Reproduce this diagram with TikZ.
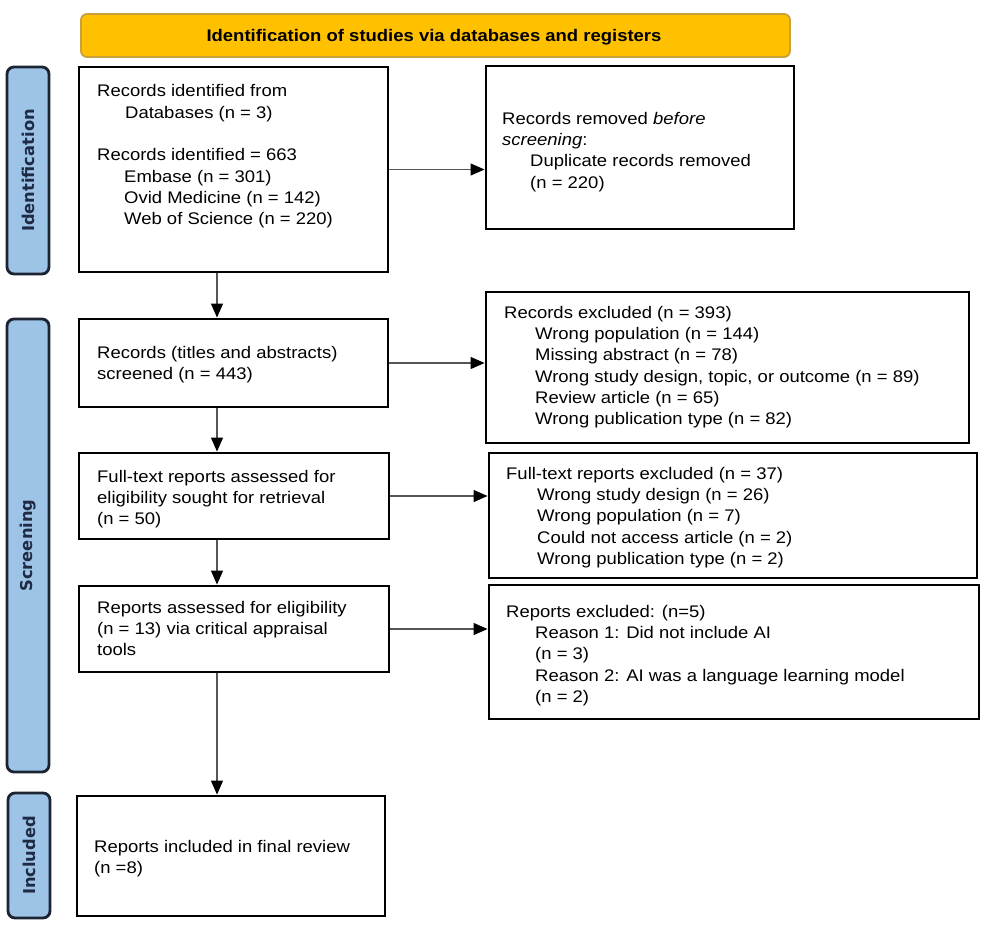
\documentclass[tikz,border=0pt]{standalone}
\usepackage{fontspec}
\setmainfont[FakeStretch=1.1]{Liberation Sans}
\newfontfamily\sidefont{DejaVu Sans}
\usetikzlibrary{arrows.meta}
\definecolor{gold}{HTML}{FFC000}
\definecolor{goldedge}{HTML}{C9A13A}
\definecolor{sideblue}{HTML}{9DC3E6}
\definecolor{sideedge}{HTML}{1C2333}
\definecolor{sidetext}{HTML}{1F2A44}
\definecolor{arrowgray}{HTML}{555555}
\tikzset{
  box/.style={draw=black, line width=2.9pt, fill=white, inner sep=0pt},
  txt/.style={anchor=north west, inner sep=0pt, align=left, font=\fontsize{16.8}{21.3}\selectfont},
  side/.style={draw=sideedge, line width=2.8pt, fill=sideblue, rounded corners=7pt, inner sep=0pt},
  sidelabel/.style={rotate=90, text=sidetext, font=\sidefont\bfseries\fontsize{16.3}{19}\selectfont},
  banner/.style={draw=goldedge, line width=1.8pt, fill=gold, rounded corners=6pt, inner sep=0pt},
  flow/.style={draw=arrowgray, line width=1.2pt, -{Triangle[length=14pt,width=12pt,fill=black,color=black]}}
}
\begin{document}
\begin{tikzpicture}[x=1pt,y=-1pt]
\useasboundingbox (0,0) rectangle (986,927);
\fill[white] (0,0) rectangle (986,927);

% banner
\node[banner, minimum width=709pt, minimum height=43pt] (ban) at (435.5,35.5) {};
\node[font=\bfseries\fontsize{16.8}{20}\selectfont, inner sep=0pt] (bantxt) at (434,37) {Identification of studies via databases and registers};

% side bars
\node[side, minimum width=42pt, minimum height=207pt] (sid1) at (28,170.5) {};
\node[sidelabel] (sidl1) at (sid1.center) {Identification};
\node[side, minimum width=42pt, minimum height=453pt] (sid2) at (28,545.5) {};
\node[sidelabel] (sidl2) at (sid2.center) {Screening};
\node[side, minimum width=42pt, minimum height=125pt] (sid3) at (29,855.5) {};
\node[sidelabel] (sidl3) at (sid3.center) {Included};

% boxes
\node[box, minimum width=309pt, minimum height=205pt] (b1) at (233.5,169.5) {};
\node[box, minimum width=308pt, minimum height=163pt] (b2) at (640,147.5) {};
\node[box, minimum width=309pt, minimum height=88pt] (b3) at (233.5,363) {};
\node[box, minimum width=483pt, minimum height=151pt] (b4) at (727.5,367.5) {};
\node[box, minimum width=310pt, minimum height=86pt] (b5) at (234,496) {};
\node[box, minimum width=488pt, minimum height=125pt] (b6) at (733,515.5) {};
\node[box, minimum width=310pt, minimum height=86pt] (b7) at (234,629) {};
\node[box, minimum width=490pt, minimum height=134pt] (b8) at (734,652) {};
\node[box, minimum width=308pt, minimum height=120pt] (b9) at (231,856) {};

% texts
\node[txt] (t1) at (97,80.7) {\rule{0pt}{16pt}Records identified from\\
\hspace*{28pt}Databases (n = 3)\\
\mbox{}\\
Records identified = 663\\
\hspace*{27pt}Embase (n = 301)\\
\hspace*{27pt}Ovid Medicine (n = 142)\\
\hspace*{27pt}Web of Science (n = 220)};

\node[txt] (t2) at (502,108) {\rule{0pt}{16pt}Records removed \textit{before}\\
\textit{screening}:\\
\hspace*{28pt}Duplicate records removed\\
\hspace*{28pt}(n = 220)};

\node[txt] (t3) at (97,342) {\rule{0pt}{16pt}Records (titles and abstracts)\\
screened (n = 443)};

\node[txt] (t4) at (504,302) {\rule{0pt}{16pt}Records excluded (n = 393)\\
\hspace*{31pt}Wrong population (n = 144)\\
\hspace*{31pt}Missing abstract (n = 78)\\
\hspace*{31pt}Wrong study design, topic, or outcome (n = 89)\\
\hspace*{31pt}Review article (n = 65)\\
\hspace*{31pt}Wrong publication type (n = 82)};

\node[txt] (t5) at (97,466) {\rule{0pt}{16pt}Full-text reports assessed for\\
eligibility sought for retrieval\\
(n = 50)};

\node[txt] (t6) at (506,463) {\rule{0pt}{16pt}Full-text reports excluded (n = 37)\\
\hspace*{31pt}Wrong study design (n = 26)\\
\hspace*{31pt}Wrong population (n = 7)\\
\hspace*{31pt}Could not access article (n = 2)\\
\hspace*{31pt}Wrong publication type (n = 2)};

\node[txt] (t7) at (97,597) {\rule{0pt}{16pt}Reports assessed for eligibility\\
(n = 13) via critical appraisal\\
tools};

\node[txt] (t8) at (506,601) {\rule{0pt}{16pt}Reports excluded: (n=5)\\
\hspace*{29pt}Reason 1: Did not include AI\\
\hspace*{29pt}(n = 3)\\
\hspace*{29pt}Reason 2: AI was a language learning model\\
\hspace*{29pt}(n = 2)};

\node[txt] (t9) at (94,836) {\rule{0pt}{16pt}Reports included in final review\\
(n =8)};

% connectors
\coordinate (vx) at (217,0);
\draw[flow] (b1.south -| vx) -- (b3.north -| vx);
\draw[flow] (b3.south -| vx) -- (b5.north -| vx);
\draw[flow] (b5.south -| vx) -- (b7.north -| vx);
\draw[flow] (b7.south -| vx) -- (b9.north -| vx);
\draw[flow] (b1.east) -- (b1.east -| b2.west);
\draw[flow] (b3.east) -- (b3.east -| b4.west);
\draw[flow] (b5.east) -- (b5.east -| b6.west);
\draw[flow] (b7.east) -- (b7.east -| b8.west);
\end{tikzpicture}
\end{document}
